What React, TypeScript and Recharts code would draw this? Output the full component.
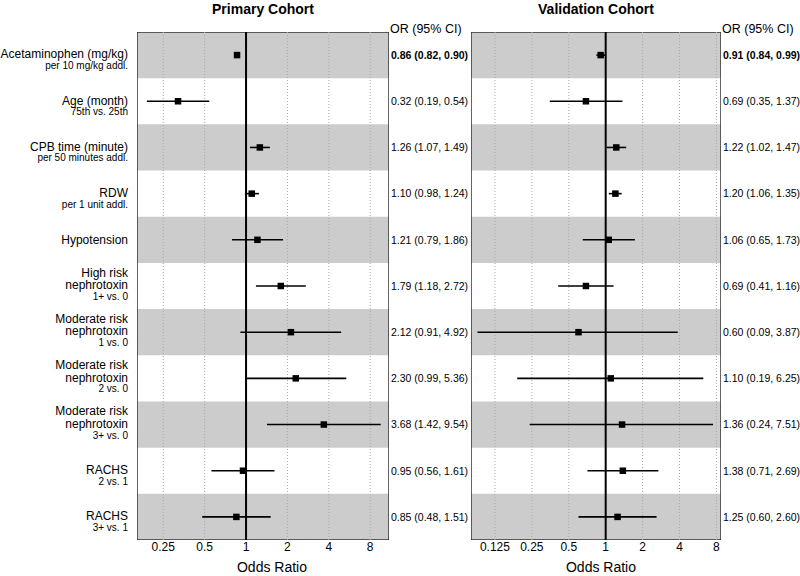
import React from 'react';
import { ScatterChart, Scatter, XAxis, YAxis, ErrorBar, ReferenceArea, ReferenceLine } from 'recharts';

const labelMain: string[][] = [
  ['Acetaminophen (mg/kg)'],
  ['Age (month)'],
  ['CPB time (minute)'],
  ['RDW'],
  ['Hypotension'],
  ['High risk', 'nephrotoxin'],
  ['Moderate risk', 'nephrotoxin'],
  ['Moderate risk', 'nephrotoxin'],
  ['Moderate risk', 'nephrotoxin'],
  ['RACHS'],
  ['RACHS'],
];
const labelSub: string[] = [
  'per 10 mg/kg addl.',
  '75th vs. 25th',
  'per 50 minutes addl.',
  'per 1 unit addl.',
  '',
  '1+ vs. 0',
  '1 vs. 0',
  '2 vs. 0',
  '3+ vs. 0',
  '2 vs. 1',
  '3+ vs. 1',
];

const primaryOR = [0.86, 0.32, 1.26, 1.10, 1.21, 1.79, 2.12, 2.30, 3.68, 0.95, 0.85];
const primaryLo = [0.82, 0.19, 1.07, 0.98, 0.79, 1.18, 0.91, 0.99, 1.42, 0.56, 0.48];
const primaryHi = [0.90, 0.54, 1.49, 1.24, 1.86, 2.72, 4.92, 5.36, 9.54, 1.61, 1.51];

const validOR = [0.91, 0.69, 1.22, 1.20, 1.06, 0.69, 0.60, 1.10, 1.36, 1.38, 1.25];
const validLo = [0.84, 0.35, 1.02, 1.06, 0.65, 0.41, 0.09, 0.19, 0.24, 0.71, 0.60];
const validHi = [0.99, 1.37, 1.47, 1.35, 1.73, 1.16, 3.87, 6.25, 7.51, 2.69, 2.60];

const primaryTicks = [0.25, 0.5, 1, 2, 4, 8];
const validTicks = [0.125, 0.25, 0.5, 1, 2, 4, 8];
const primaryDomain: [number, number] = [0.161, 10.96];
const validDomain: [number, number] = [0.0797, 8.72];

const FONT = '"Liberation Sans", Arial, Helvetica, sans-serif';
const N = primaryOR.length;
const rowTicks = primaryOR.map((_, i) => i + 0.5);
const bandRows = primaryOR.map((_, i) => i).filter((i) => i % 2 === 0);

const fmt = (v: number) => v.toFixed(2);

function buildRows(or: number[], lo: number[], hi: number[]) {
  return or.map((v, i) => ({
    x: v,
    y: i + 0.5,
    err: [v - lo[i], hi[i] - v],
    text: `${fmt(v)} (${fmt(lo[i])}, ${fmt(hi[i])})`,
  }));
}

const primaryRows = buildRows(primaryOR, primaryLo, primaryHi);
const validRows = buildRows(validOR, validLo, validHi);

const LabelTick = (props: any) => {
  const { x, y, payload } = props;
  const i = Math.round(payload.value - 0.5);
  const mains = labelMain[i] || [];
  const sub = labelSub[i];
  const base = sub ? -1 : 0;
  return (
    <g>
      {mains.map((m, j) => (
        <text
          key={j}
          x={x}
          y={y + base - (mains.length - 1 - j) * 12.5 + 4.3}
          textAnchor="end"
          fontSize={12}
          fontFamily={FONT}
          fill="#000"
        >
          {m}
        </text>
      ))}
      {sub ? (
        <text x={x} y={y + 14} textAnchor="end" fontSize={10} fontFamily={FONT} fill="#000">
          {sub}
        </text>
      ) : null}
    </g>
  );
};

const makeORTick = (rows: { text: string }[]) => (props: any) => {
  const { x, y, payload } = props;
  const i = Math.round(payload.value - 0.5);
  return (
    <text
      x={x}
      y={y + 3.8}
      textAnchor="start"
      fontSize={10.5}
      fontFamily={FONT}
      fontWeight={i === 0 ? 'bold' : 'normal'}
      fill="#000"
    >
      {rows[i] ? rows[i].text : ''}
    </text>
  );
};

const Square = (props: any) => {
  const { cx, cy } = props;
  const s = 6.5;
  return <rect x={cx - s / 2} y={cy - s / 2} width={s} height={s} fill="#000" />;
};

const Nothing = () => <g />;

function Panel(props: {
  width: number;
  left: number;
  showLabels: boolean;
  rows: any[];
  ticks: number[];
  domain: [number, number];
  rightWidth: number;
}) {
  const { width, left, showLabels, rows, ticks, domain, rightWidth } = props;
  const yId = 'main';
  return (
    <ScatterChart
      width={width}
      height={576}
      margin={{ top: 32, right: 0, bottom: 0, left: showLabels ? 0 : left }}
    >
      <XAxis
        type="number"
        dataKey="x"
        scale="log"
        domain={domain}
        allowDataOverflow
        ticks={ticks}
        interval={0}
        height={36}
        tickSize={0}
        tickMargin={2}
        axisLine={false}
        tickLine={false}
        tick={{ fontSize: 12, fontFamily: FONT, fill: '#000' }}
        tickFormatter={(v: number) => String(v)}
      />
      <YAxis
        yAxisId={yId}
        type="number"
        dataKey="y"
        domain={[0, N]}
        reversed
        ticks={rowTicks}
        interval={0}
        orientation="left"
        width={showLabels ? 137 : 0}
        hide={!showLabels}
        axisLine={false}
        tickLine={false}
        tickSize={0}
        tickMargin={9}
        tick={<LabelTick />}
      />
      <YAxis
        yAxisId="right"
        type="number"
        dataKey="y"
        domain={[0, N]}
        reversed
        ticks={rowTicks}
        interval={0}
        orientation="right"
        width={rightWidth}
        axisLine={false}
        tickLine={false}
        tickSize={0}
        tickMargin={2}
        tick={makeORTick(rows)}
      />
      {bandRows.map((i) => (
        <ReferenceArea
          key={'band' + i}
          yAxisId={yId}
          x1={domain[0]}
          x2={domain[1]}
          y1={i}
          y2={i + 1}
          fill="#cccccc"
          fillOpacity={1}
          stroke="none"
          ifOverflow="hidden"
        />
      ))}
      {ticks
        .filter((t) => t !== 1)
        .map((t) => (
          <ReferenceLine
            key={'g' + t}
            yAxisId={yId}
            x={t}
            stroke="#a8a8a8"
            strokeWidth={1}
            strokeDasharray="1 2"
          />
        ))}
      <ReferenceLine yAxisId={yId} x={1} stroke="#000" strokeWidth={2} />
      <Scatter
        yAxisId="right"
        data={rows}
        isAnimationActive={false}
        shape={<Nothing />}
        legendType="none"
      />
      <Scatter
        yAxisId={yId}
        data={rows}
        isAnimationActive={false}
        shape={<Square />}
        fill="#000"
      >
        <ErrorBar dataKey="err" direction="x" width={0} stroke="#000" strokeWidth={1.6} />
      </Scatter>
      <ReferenceArea
        yAxisId={yId}
        x1={domain[0]}
        x2={domain[1]}
        y1={0}
        y2={N}
        fill="none"
        stroke="#333"
        strokeWidth={1.5}
        ifOverflow="hidden"
      />
    </ScatterChart>
  );
}

const textStyle: React.CSSProperties = {
  position: 'absolute',
  fontFamily: FONT,
  color: '#000',
  whiteSpace: 'nowrap',
  lineHeight: 1,
};

export default function App() {
  return (
    <div style={{ position: 'absolute', left: 0, top: 0, width: 800, height: 576, background: '#fff', overflow: 'hidden' }}>
      <div style={{ position: 'absolute', left: 0, top: 0 }}>
        <Panel width={470} left={0} showLabels rows={primaryRows} ticks={primaryTicks} domain={primaryDomain} rightWidth={81} />
      </div>
      <div style={{ position: 'absolute', left: 470, top: 0 }}>
        <Panel width={330} left={1} showLabels={false} rows={validRows} ticks={validTicks} domain={validDomain} rightWidth={79} />
      </div>
      <div style={{ ...textStyle, left: 163, width: 200, top: 2, textAlign: 'center', fontSize: 14, fontWeight: 'bold' }}>
        Primary Cohort
      </div>
      <div style={{ ...textStyle, left: 496, width: 200, top: 2, textAlign: 'center', fontSize: 14, fontWeight: 'bold' }}>
        Validation Cohort
      </div>
      <div style={{ ...textStyle, left: 390, top: 23, fontSize: 12.5 }}>OR (95% CI)</div>
      <div style={{ ...textStyle, left: 722, top: 23, fontSize: 12.5 }}>OR (95% CI)</div>
      <div style={{ ...textStyle, left: 172, width: 200, top: 560, textAlign: 'center', fontSize: 14 }}>
        Odds Ratio
      </div>
      <div style={{ ...textStyle, left: 501, width: 200, top: 560, textAlign: 'center', fontSize: 14 }}>
        Odds Ratio
      </div>
    </div>
  );
}
